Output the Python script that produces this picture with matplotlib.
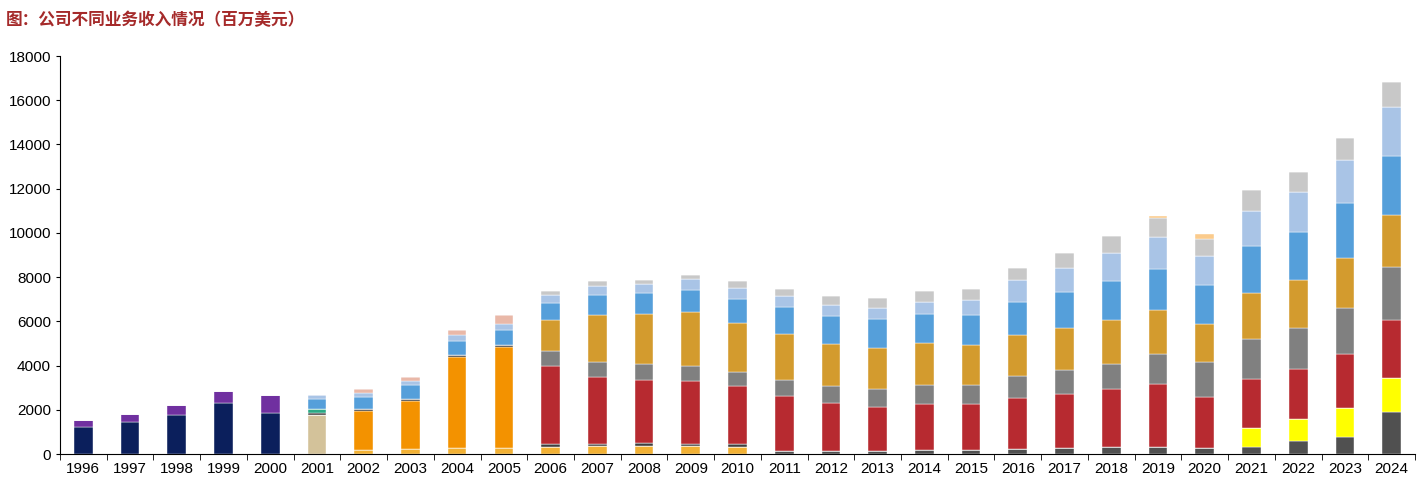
import matplotlib
matplotlib.use("Agg")
import matplotlib.pyplot as plt
import numpy as np

plt.rcParams['font.family'] = ['Liberation Sans', 'Noto Sans CJK SC', 'DejaVu Sans']

years = [str(y) for y in range(1996, 2025)]
n = len(years)

def series(d):
    return [d.get(int(y), 0) for y in years]

navy = series({1996: 1210, 1997: 1430, 1998: 1770, 1999: 2300, 2000: 1870})
purple = series({1996: 330, 1997: 400, 1998: 460, 1999: 540, 2000: 790})
tan = series({2001: 1770})
gold = series({2002: 180, 2003: 230, 2004: 270, 2005: 270, 2006: 320, 2007: 350, 2008: 350, 2009: 350, 2010: 330})
darkgrey = series(dict(zip(range(2011, 2025), [150, 120, 140, 200, 200, 210, 260, 300, 300, 290, 330, 570, 790, 1900])))
yellow = series({2021: 860, 2022: 1030, 2023: 1280, 2024: 1530})
orange = series({2002: 1780, 2003: 2170, 2004: 4110, 2005: 4550})
darkline = series(dict(zip(range(2001, 2011), [70, 60, 90, 120, 90, 120, 100, 150, 120, 140])))
teal = series({2001: 200})
red = series(dict(zip(range(2006, 2025), [3520, 3040, 2850, 2850, 2600, 2460, 2190, 1990, 2050, 2050, 2310, 2440, 2630, 2860, 2310, 2220, 2240, 2440, 2640])))
grey = series(dict(zip(range(2006, 2025), [710, 690, 700, 640, 630, 740, 760, 800, 850, 890, 1030, 1080, 1150, 1370, 1540, 1810, 1880, 2090, 2400])))
ochre = series(dict(zip(range(2006, 2025), [1400, 2120, 2290, 2460, 2230, 2090, 1910, 1870, 1930, 1810, 1840, 1910, 1990, 1960, 1730, 2060, 2150, 2250, 2330])))
blue = series(dict(zip(range(2001, 2025), [450, 550, 610, 620, 710, 770, 890, 940, 980, 1080, 1200, 1260, 1300, 1310, 1330, 1470, 1620, 1740, 1890, 1790, 2110, 2190, 2480, 2670])))
lightblue = series(dict(zip(range(2001, 2025), [170, 210, 190, 260, 280, 360, 410, 420, 530, 480, 520, 510, 510, 530, 680, 990, 1120, 1280, 1440, 1310, 1590, 1810, 1970, 2220])))
pink = series({2002: 150, 2003: 180, 2004: 250, 2005: 380})
lightgrey = series(dict(zip(range(2006, 2025), [170, 210, 160, 170, 330, 310, 380, 460, 500, 500, 550, 650, 760, 840, 750, 950, 900, 980, 1120])))
peach = series({2019: 120, 2020: 230})

layers = [
    (navy, '#0B1F5C'), (purple, '#7030A0'), (tan, '#D3C29A'), (gold, '#F2B134'),
    (darkgrey, '#505050'), (yellow, '#FFFF00'), (orange, '#F39200'), (darkline, '#3F3F3F'),
    (teal, '#2BAA86'), (red, '#B72A30'), (grey, '#808080'), (ochre, '#D39B2E'),
    (blue, '#559FDA'), (lightblue, '#A9C4E6'), (pink, '#E9B8A8'), (lightgrey, '#C8C8C8'),
    (peach, '#FBCB8C'),
]

fig = plt.figure(figsize=(14.2, 4.87), dpi=100)
ax = fig.add_axes([60/1420, 1 - 454/487, 1355/1420, 398/487])
x = np.arange(n)
bottom = np.zeros(n)
for vals, c in layers:
    v = np.array(vals, dtype=float)
    ax.bar(x, v, bottom=bottom, width=0.4, color=c, edgecolor='white', linewidth=0.3)
    bottom += v

ax.set_xlim(-0.5, n - 0.5)
ax.set_ylim(0, 18000)
ax.set_yticks(range(0, 18001, 2000))
ax.set_xticks(x)
ax.set_xticklabels(years, fontsize=11)
ax.set_xticks(np.arange(-0.5, n, 1), minor=True)
ax.tick_params(axis='x', which='major', length=0, pad=6)
ax.tick_params(axis='x', which='minor', length=4, direction='out')
ax.tick_params(axis='y', labelsize=11, length=3, direction='out')
for s in ['top', 'right']:
    ax.spines[s].set_visible(False)
ax.spines['left'].set_color('#000000')
ax.spines['bottom'].set_color('#000000')

fig.text(6/1420, 1 - 20/487, '图：公司不同业务收入情况（百万美元）', color='#A52A2A',
         fontsize=12, fontweight='bold', va='center', ha='left',
         family=['Noto Sans CJK SC', 'DejaVu Sans'])

fig.savefig('out.png', dpi=100)
